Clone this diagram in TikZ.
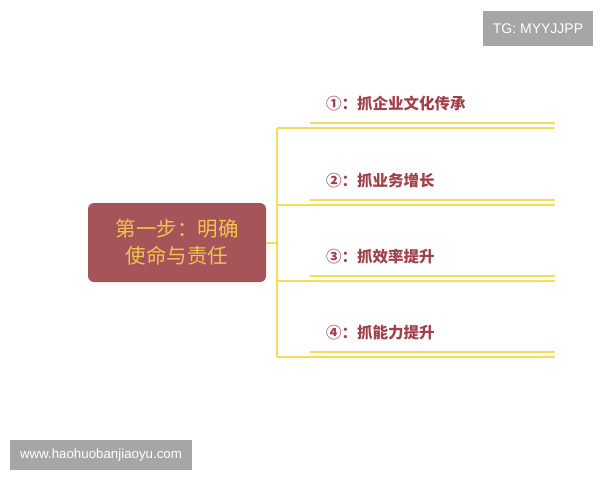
\documentclass[tikz,border=0pt]{standalone}
\usepackage{fontspec}
\setmainfont{Liberation Sans}
\newfontfamily\cjk{Noto Sans CJK SC}
\definecolor{boxred}{HTML}{A5545A}
\definecolor{boxtext}{HTML}{F5C24E}
\definecolor{linky}{HTML}{F0DE5C}
\definecolor{labred}{HTML}{A0404A}
\definecolor{wmgray}{HTML}{A6A6A6}
\tikzset{
  mainbox/.style={draw=none, fill=boxred, rounded corners=6pt, minimum width=178pt, minimum height=79pt, inner sep=0pt, align=center, text=boxtext, font=\cjk\fontsize{20.5}{27}\selectfont},
  branchlab/.style={anchor=west, inner sep=0pt, text=labred, font=\cjk\bfseries\fontsize{15.5}{18}\selectfont},
  yline/.style={draw=linky, line width=2.4pt},
  wmbox/.style={fill=wmgray, text=white, inner sep=0pt},
}
\begin{document}
\begin{tikzpicture}[x=1pt,y=-1pt]
\useasboundingbox (0,0) rectangle (600,480);
\fill[white] (0,0) rectangle (600,480);
% central box
\node[mainbox] (main) at (177,242.5) {第一步：明确\\使命与责任};
% spine
\coordinate (j) at (277,243);
\coordinate (s1) at (277,128);
\coordinate (s4) at (277,357);
\draw[yline] (main.east |- j) -- (j);
\draw[yline] (s1) -- (s4);
% branches
\foreach \i/\y/\t in {1/128/{①：抓企业文化传承},2/205/{②：抓业务增长},3/281/{③：抓效率提升},4/357/{④：抓能力提升}}{
  \coordinate (b\i) at (277,\y);
  \coordinate (e\i) at (555,\y);
  \coordinate (u\i) at (310,\y-5);
  \coordinate (ue\i) at (555,\y-5);
  \node[branchlab] (l\i) at (326,\y-24) {\t};
  \draw[yline] (b\i) -- (e\i);
  \draw[yline] (u\i) -- (ue\i);
}
% watermarks
\node[wmbox, minimum width=110pt, minimum height=35pt, font=\fontsize{14}{16}\selectfont] (tg) at (538,28.5) {TG: MYYJJPP};
\node[wmbox, minimum width=182pt, minimum height=30pt, font=\fontsize{13.3}{15}\selectfont] (www) at (101,455) {www.haohuobanjiaoyu.com};
\end{tikzpicture}
\end{document}
